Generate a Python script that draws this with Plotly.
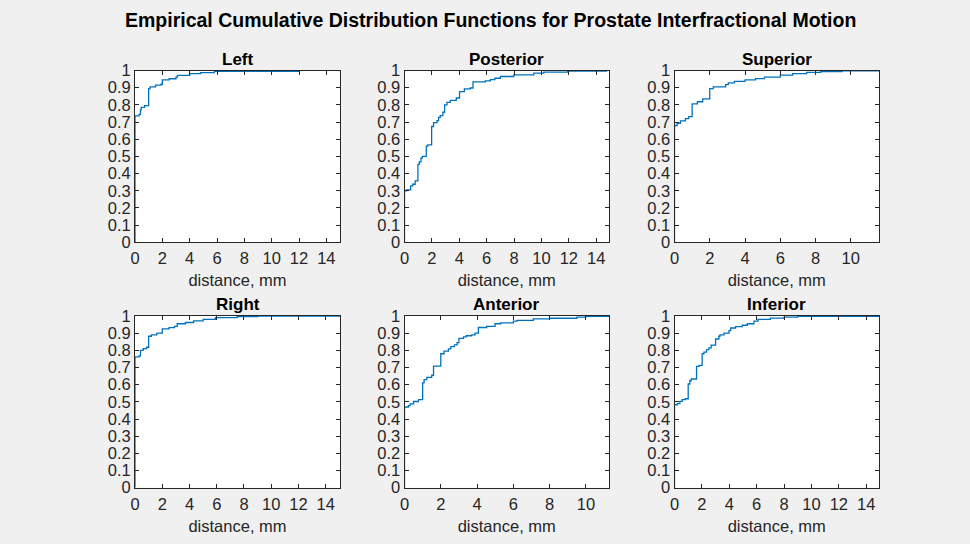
import plotly.graph_objects as go

# ---- data: ECDF step points (distance mm, cumulative probability) ----
left_x = [0, 0, 0.3, 0.4, 0.45, 0.7, 1.0, 1.1, 1.5, 1.9, 2.0, 2.5, 3.0, 3.1, 4.0, 4.8, 5.8, 12.0]
left_f = [0, 0.736, 0.745, 0.77, 0.785, 0.795, 0.895, 0.905, 0.915, 0.92, 0.945, 0.952, 0.962, 0.972, 0.982, 0.988, 0.995, 1.0]

post_x = [0, 0, 0.15, 0.45, 0.6, 0.78, 0.98, 1.08, 1.2, 1.3, 1.59, 1.7, 1.98, 2.12, 2.37, 2.49, 2.61, 2.80, 2.93,
          3.10, 3.34, 3.78, 4.02, 4.37, 4.80, 5.0, 5.9, 6.27, 6.6, 7.0, 7.98, 9.44, 10.17, 11.9, 14.75]
post_f = [0, 0.30, 0.305, 0.328, 0.338, 0.357, 0.454, 0.468, 0.49, 0.5, 0.56, 0.567, 0.674, 0.697, 0.708, 0.727, 0.737, 0.757, 0.80,
          0.815, 0.826, 0.84, 0.877, 0.893, 0.898, 0.934, 0.94, 0.947, 0.955, 0.965, 0.975, 0.985, 0.99, 0.997, 1.0]

sup_x = [0, 0, 0.15, 0.34, 0.62, 0.81, 1.0, 1.3, 1.6, 2.0, 2.2, 2.9, 3.05, 3.4, 4.0, 4.6, 5.1, 6.0, 6.7, 7.5, 8.3, 9.5, 11.6]
sup_f = [0, 0.68, 0.693, 0.707, 0.72, 0.732, 0.806, 0.818, 0.835, 0.895, 0.905, 0.918, 0.928, 0.937, 0.946, 0.953, 0.962, 0.973, 0.982, 0.989, 0.994, 0.998, 1.0]

right_x = [0, 0, 0.3, 0.4, 0.6, 0.85, 1.0, 1.2, 1.6, 2.0, 2.5, 2.9, 3.1, 3.7, 4.3, 5.0, 5.9, 7.5, 9.0, 15.05]
right_f = [0, 0.762, 0.768, 0.8, 0.81, 0.818, 0.882, 0.89, 0.9, 0.925, 0.932, 0.94, 0.955, 0.962, 0.972, 0.98, 0.99, 0.996, 0.999, 1.0]

ant_x = [0, 0, 0.22, 0.31, 0.5, 0.77, 1.0, 1.08, 1.23, 1.5, 1.6, 2.0, 2.18, 2.42, 2.55, 2.75, 2.9, 3.0, 3.25, 3.4, 3.7, 3.89,
         4.07, 4.53, 4.99, 5.3, 6.0, 6.2, 7.1, 8.0, 9.5, 10.0, 11.27]
ant_f = [0, 0.47, 0.478, 0.488, 0.502, 0.513, 0.61, 0.63, 0.643, 0.655, 0.708, 0.78, 0.795, 0.808, 0.822, 0.832, 0.845, 0.87, 0.878, 0.885, 0.89, 0.9,
         0.933, 0.94, 0.955, 0.96, 0.97, 0.975, 0.983, 0.987, 0.993, 0.998, 1.0]

inf_x = [0, 0, 0.2, 0.39, 0.56, 0.8, 1.0, 1.12, 1.22, 1.61, 1.8, 2.02, 2.15, 2.34, 2.51, 2.68, 3.0, 3.24, 3.32, 3.61, 3.98,
         4.1, 4.46, 4.95, 5.32, 5.8, 6.1, 7.0, 8.0, 9.0, 14.93]
inf_f = [0, 0.483, 0.49, 0.503, 0.513, 0.518, 0.604, 0.623, 0.633, 0.707, 0.713, 0.78, 0.79, 0.804, 0.814, 0.83, 0.866, 0.882, 0.89, 0.9, 0.915,
         0.93, 0.938, 0.946, 0.955, 0.97, 0.98, 0.988, 0.994, 0.998, 1.0]

titles = ["Left", "Posterior", "Superior", "Right", "Anterior", "Inferior"]
xs = [left_x, post_x, sup_x, right_x, ant_x, inf_x]
fs = [left_f, post_f, sup_f, right_f, ant_f, inf_f]
x_max = [15.0, 14.93, 11.6, 15.05, 11.27, 14.93]
y_ticks = [0, 0.1, 0.2, 0.3, 0.4, 0.5, 0.6, 0.7, 0.8, 0.9, 1]
y_tick_text = ["0", "0.1", "0.2", "0.3", "0.4", "0.5", "0.6", "0.7", "0.8", "0.9", "1"]

W, H = 970, 544
col_px = [(135, 340), (404.5, 609), (674.5, 879)]
row_px = [(70.5, 242.3), (316, 487.7)]

FONT = "Liberation Sans, Arial, Helvetica, sans-serif"
AX = "#262626"
fig = go.Figure()
annotations = []
for i in range(6):
    r, c = divmod(i, 3)
    n = "" if i == 0 else str(i + 1)
    xa, ya = "x" + n, "y" + n
    fig.add_trace(go.Scatter(x=xs[i], y=fs[i], mode="lines", line=dict(color="#0072BD", width=1.3, shape="hv"),
                             xaxis=xa, yaxis=ya, showlegend=False, hoverinfo="x+y"))
    x0, x1 = col_px[c]
    yt, yb = row_px[r]
    common = dict(showline=True, linecolor=AX, linewidth=1, mirror="allticks", ticks="inside", ticklen=4,
                  tickcolor=AX, tickfont=dict(family=FONT, size=16.5, color=AX), showgrid=False, zeroline=False,
                  automargin=False)
    fig.layout["xaxis" + n] = dict(domain=[x0 / W, x1 / W], anchor=ya, range=[0, x_max[i]], dtick=2, tick0=0,
                                   ticklabelstandoff=1,
                                   title=dict(text="distance, mm", font=dict(family=FONT, size=16.5, color=AX), standoff=8),
                                   **common)
    fig.layout["yaxis" + n] = dict(domain=[1 - yb / H, 1 - yt / H], anchor=xa, range=[0, 1], tickvals=y_ticks,
                                   ticktext=y_tick_text, **common)
    annotations.append(dict(text="<b>" + titles[i] + "</b>", x=(x0 + x1) / 2 / W, y=1 - yt / H, xref="paper", yref="paper",
                            xanchor="center", yanchor="bottom", yshift=0, showarrow=False,
                            font=dict(family=FONT, size=17, color="#000000")))

annotations.append(dict(text="<b>Empirical Cumulative Distribution Functions for Prostate Interfractional Motion</b>",
                        x=490 / W, y=1 - 20 / H, xref="paper", yref="paper", xanchor="center", yanchor="middle",
                        showarrow=False, font=dict(family=FONT, size=19.5, color="#000000")))

fig.update_layout(width=W, height=H, margin=dict(l=0, r=0, t=0, b=0, autoexpand=False), paper_bgcolor="#f0f0f0",
                  plot_bgcolor="#ffffff", annotations=annotations)
fig.write_html("out.html", config={"displayModeBar": False},
               post_script="document.body.style.margin='0';document.body.style.overflow='hidden';")
